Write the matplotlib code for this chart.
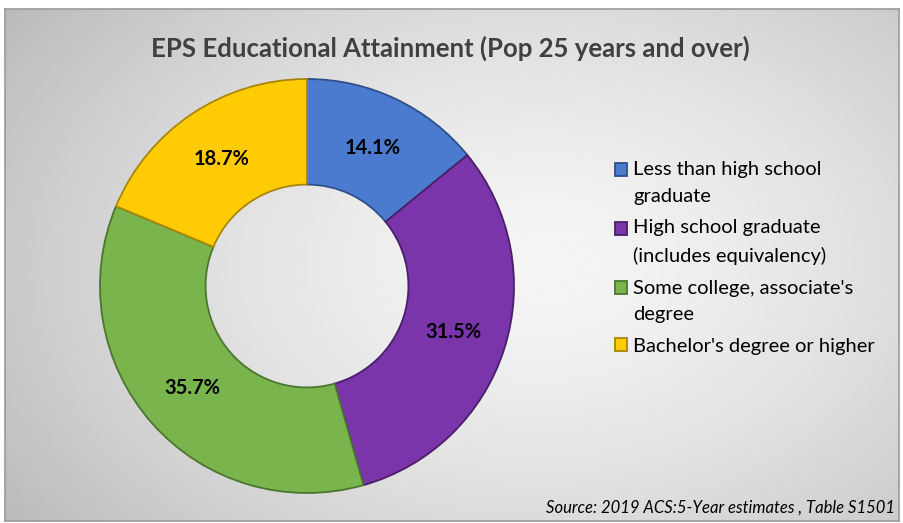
import numpy as np
import matplotlib
matplotlib.use("Agg")
import matplotlib.pyplot as plt
from matplotlib.legend_handler import HandlerPatch
from matplotlib.patches import Rectangle

categories = ["Less than high school\ngraduate",
              "High school graduate\n(includes equivalency)",
              "Some college, associate's\ndegree",
              "Bachelor's degree or higher"]
values = [14.1, 31.5, 35.7, 18.7]
colors = ["#4A7BCF", "#7A35AA", "#79B44D", "#FFCB05"]
edges = ["#2E4F8A", "#4A1F6A", "#4C7530", "#A8860A"]
title = "EPS Educational Attainment (Pop 25 years and over)"
source = "Source: 2019 ACS:5-Year estimates , Table S1501"

FONT = ["Lato", "DejaVu Sans"]
plt.rcParams["font.family"] = FONT

W, H = 904, 523
fig = plt.figure(figsize=(W / 100, H / 100), dpi=100)
fig.patch.set_facecolor("white")

# background frame with radial gradient
x0, y0, x1, y1 = 5, 9, 899, 521
bg = fig.add_axes([x0 / W, 1 - y1 / H, (x1 - x0) / W, (y1 - y0) / H])
gx, gy = np.meshgrid(np.linspace(0, 1, 400), np.linspace(0, 1, 240))
d = np.sqrt(((gx - 0.6) / 0.75) ** 2 + ((gy - 0.5) / 0.9) ** 2)
img = 0.96 - 0.24 * np.clip(d, 0, 1.2) ** 1.5
bg.imshow(img, cmap="gray", vmin=0, vmax=1, aspect="auto", extent=[0, 1, 0, 1])
bg.set_xticks([]); bg.set_yticks([])
for s in bg.spines.values():
    s.set_edgecolor("#9a9a9a"); s.set_linewidth(1.2)

# donut
cx, cy, R = 307, 286, 207
ax = fig.add_axes([(cx - R) / W, 1 - (cy + R) / H, 2 * R / W, 2 * R / H])
ax.set_facecolor("none")
wedges, texts, autotexts = ax.pie(
    values, colors=colors, startangle=90, counterclock=False,
    autopct="%1.1f%%", pctdistance=0.74,
    wedgeprops=dict(width=0.51, linewidth=1.3),
    textprops=dict(fontsize=14.5, fontweight="bold", color="black"))
for w, e in zip(wedges, edges):
    w.set_edgecolor(e)
ax.set_xlim(-1.0, 1.0); ax.set_ylim(-1.0, 1.0)
ax.set_aspect("equal")
ax.axis("off")

fig.text(450 / W, 1 - 48 / H, title, ha="center", va="center",
         fontsize=18.5, fontweight="bold", color="#404040")

# legend: handle aligned with first text line
LINE_PT = 27 * 0.72


def make_handler(nlines):
    shift = (nlines - 1) * LINE_PT / 2

    def pf(legend, orig_handle, xdescent, ydescent, width, height, fontsize):
        return Rectangle((-xdescent, -ydescent + shift), width, height)
    return HandlerPatch(patch_func=pf)


hmap = {w: make_handler(c.count("\n") + 1) for w, c in zip(wedges, categories)}
leg = fig.legend(wedges, categories, loc="upper left",
                 bbox_to_anchor=(597 / W, 1 - 143 / H), frameon=False,
                 fontsize=14.5, handlelength=0.6, handleheight=0.6,
                 handletextpad=0.3, labelspacing=0.72, handler_map=hmap)
for t in leg.get_texts():
    t.set_color("black")
    t.set_linespacing(1.7)
for h, e in zip(leg.legend_handles, edges):
    h.set_edgecolor(e)

fig.text(895 / W, 1 - 508 / H, source, ha="right", va="center",
         fontsize=12, style="italic", color="black")

fig.savefig("out.png", dpi=100)
